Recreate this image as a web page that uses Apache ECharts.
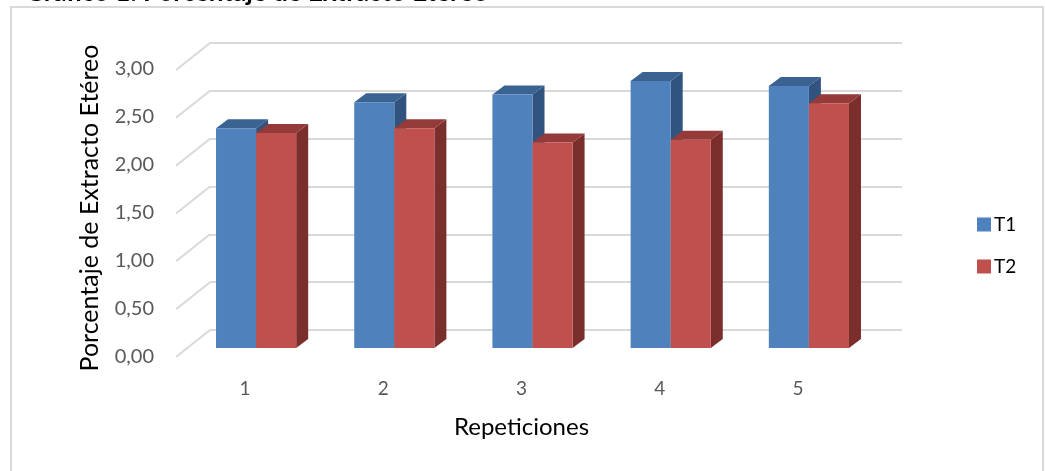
<!DOCTYPE html>
<html>
<head>
<meta charset="utf-8">
<script src="https://cdn.jsdelivr.net/npm/echarts@6/dist/echarts.min.js"></script>
<style>
  html, body { margin: 0; padding: 0; background: #ffffff; }
  #chart { width: 1045px; height: 471px; }
</style>
</head>
<body>
<div id="chart"></div>
<script>
// Repetitions on the horizontal axis
const categories = ['1', '2', '3', '4', '5'];
// Ether extract percentage per treatment
const t1Values = [2.29, 2.56, 2.64, 2.78, 2.73];
const t2Values = [2.24, 2.29, 2.14, 2.17, 2.55];
const seriesNames = ['T1', 'T2'];
// Value ticks on the back wall
const yTicks = [0, 0.5, 1, 1.5, 2, 2.5, 3];

const FONT = 'Lato, "Open Sans", sans-serif';
const palette = [
  { front: '#4F81BD', top: '#3B6392', side: '#30537F' },
  { front: '#C0504D', top: '#943A38', side: '#7B2F2D' }
];
// depth of the wall box and of each bar (pixels, oblique projection)
const WALL_DX = 34, WALL_DY = -27;
const BAR_DX = 12, BAR_DY = -9;

const fmt = v => v.toFixed(2).replace('.', ',');

function barRenderer(k) {
  return function (params, api) {
    const idx = api.value(0);
    const val = api.value(1);
    const band = api.size([1, 0])[0];
    const w = band * 0.29;
    const base = api.coord([idx, 0]);
    const top = api.coord([idx, val]);
    const x0 = base[0] - w + k * w;
    const x1 = x0 + w;
    const yb = base[1], yt = top[1];
    const c = palette[k];
    return {
      type: 'group',
      children: [
        { type: 'polygon', shape: { points: [[x1, yb], [x1 + BAR_DX, yb + BAR_DY], [x1 + BAR_DX, yt + BAR_DY], [x1, yt]] },
          style: { fill: c.side } },
        { type: 'polygon', shape: { points: [[x0, yt], [x0 + BAR_DX, yt + BAR_DY], [x1 + BAR_DX, yt + BAR_DY], [x1, yt]] },
          style: { fill: c.top } },
        { type: 'rect', shape: { x: x0, y: yt, width: w, height: yb - yt },
          style: { fill: c.front } }
      ]
    };
  };
}

const chart = echarts.init(document.getElementById('chart'), null, { renderer: 'canvas' });

chart.setOption({
  backgroundColor: '#ffffff',
  animation: false,
  title: {
    text: 'Gráfico 1. Porcentaje de Extracto Etéreo',
    left: 20, top: -25,
    textStyle: { fontFamily: FONT, fontSize: 26, fontWeight: 'bold', color: '#000000' }
  },
  graphic: [{
    type: 'rect', silent: true, z: -10,
    shape: { x: 11, y: 7, width: 1032, height: 480 },
    style: { fill: 'none', stroke: '#D9D9D9', lineWidth: 2 }
  }],
  legend: {
    orient: 'vertical',
    left: 972, top: 210,
    itemWidth: 14, itemHeight: 14, itemGap: 23,
    icon: 'rect',
    data: seriesNames,
    textStyle: { fontFamily: FONT, fontSize: 19, color: '#000000', padding: [0, 0, 0, -2] }
  },
  grid: [
    // front edge of the floor: tick labels and axis names
    { left: 176, right: 178, top: 69, bottom: 114 },
    // plane of the bars
    { left: 187, right: 167, top: 60, bottom: 123 },
    // back wall
    { left: 210, right: 143, top: 43, bottom: 141 }
  ],
  xAxis: [
    { gridIndex: 0, type: 'category', data: categories,
      axisLine: { show: false }, axisTick: { show: false }, splitLine: { show: false },
      axisLabel: { margin: 22, fontFamily: FONT, fontSize: 19, color: '#595959' },
      name: 'Repeticiones', nameLocation: 'middle', nameGap: 58,
      nameTextStyle: { fontFamily: FONT, fontSize: 24, color: '#000000' } },
    { gridIndex: 1, type: 'category', data: categories, show: false },
    { gridIndex: 2, type: 'value', min: 0, max: 1, show: false }
  ],
  yAxis: [
    { gridIndex: 0, type: 'value', min: 0, max: 3, interval: 0.5,
      axisLine: { show: false }, axisTick: { show: false }, splitLine: { show: false },
      axisLabel: { margin: 22, fontFamily: FONT, fontSize: 20, color: '#595959', formatter: fmt },
      name: 'Porcentaje de Extracto Etéreo', nameLocation: 'middle', nameGap: 74,
      nameTextStyle: { fontFamily: FONT, fontSize: 25, color: '#000000', padding: [0, 0, 0, 10] } },
    { gridIndex: 1, type: 'value', min: 0, max: 3, interval: 0.5, show: false },
    { gridIndex: 2, type: 'value', min: 0, max: 3, interval: 0.5,
      axisLine: { show: false }, axisTick: { show: false }, axisLabel: { show: false },
      splitLine: { show: true, lineStyle: { color: '#D9D9D9', width: 2 } } }
  ],
  series: [
    {
      // side-wall gridlines running from the back wall toward the front
      type: 'custom', xAxisIndex: 2, yAxisIndex: 2, silent: true, z: 1,
      data: yTicks.map(v => [0, v]),
      renderItem: function (params, api) {
        const p = api.coord([0, api.value(1)]);
        return { type: 'line',
          shape: { x1: p[0], y1: p[1], x2: p[0] - WALL_DX, y2: p[1] - WALL_DY },
          style: { stroke: '#D9D9D9', lineWidth: 2 } };
      }
    },
    {
      name: seriesNames[0], type: 'custom', xAxisIndex: 1, yAxisIndex: 1, z: 2,
      itemStyle: { color: palette[0].front },
      data: t1Values.map((v, i) => [i, v]),
      renderItem: barRenderer(0)
    },
    {
      name: seriesNames[1], type: 'custom', xAxisIndex: 1, yAxisIndex: 1, z: 3,
      itemStyle: { color: palette[1].front },
      data: t2Values.map((v, i) => [i, v]),
      renderItem: barRenderer(1)
    }
  ]
});
</script>
</body>
</html>
